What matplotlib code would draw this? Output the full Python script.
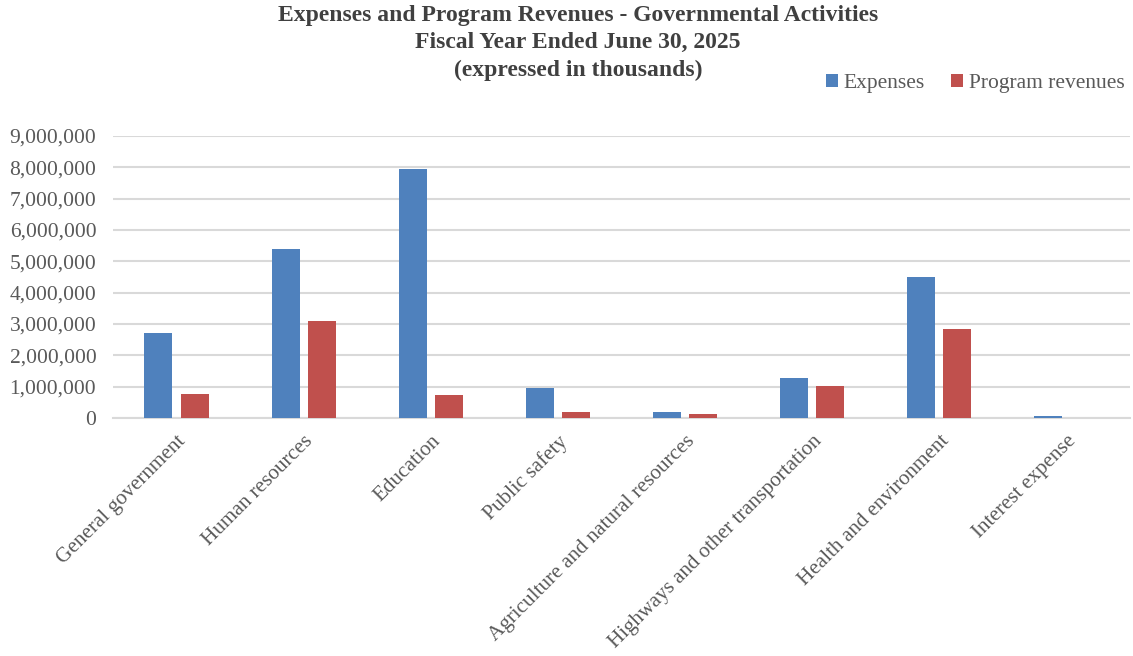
import matplotlib.pyplot as plt
import numpy as np

categories = ["General government", "Human resources", "Education", "Public safety",
              "Agriculture and natural resources", "Highways and other transportation",
              "Health and environment", "Interest expense"]
expenses = [2720000, 5380000, 7930000, 970000, 180000, 1280000, 4500000, 50000]
program_revenues = [760000, 3080000, 730000, 190000, 120000, 1030000, 2850000, 0]
yticks = [0, 1000000, 2000000, 3000000, 4000000, 5000000, 6000000, 7000000, 8000000, 9000000]
title_lines = ["Expenses and Program Revenues - Governmental Activities",
               "Fiscal Year Ended June 30, 2025",
               "(expressed in thousands)"]

plt.rcParams["font.family"] = ["Liberation Serif", "DejaVu Serif"]

fig = plt.figure(figsize=(11.33, 6.56), dpi=100)
ax = fig.add_axes([0.0997, 0.3628, 0.8977, 0.43])

x = np.arange(len(categories))
w = 0.22
ax.bar(x - 0.142, expenses, w, color="#4F81BD", label="Expenses", zorder=3)
ax.bar(x + 0.142, program_revenues, w, color="#C0504D", label="Program revenues", zorder=3)

ax.set_xlim(-0.5, len(categories) - 0.5)
ax.set_ylim(0, 9000000)
ax.set_yticks(yticks)
ax.set_yticklabels([f"{v:,}" for v in yticks], fontsize=15.5, color="#595959")
ax.yaxis.grid(True, color="#d9d9d9", linewidth=1.5, zorder=0)
ax.set_xticks(x)
ax.set_xticklabels(categories, rotation=45, ha="right", rotation_mode="anchor",
                   fontsize=15.2, color="#595959")
ax.tick_params(axis="both", length=0)
ax.tick_params(axis="y", pad=12)
ax.tick_params(axis="x", pad=10)
for s in ["top", "right", "left"]:
    ax.spines[s].set_visible(False)
ax.spines["bottom"].set_color("#d9d9d9")
ax.spines["bottom"].set_linewidth(1.5)

# title, one text per line
for i, line in enumerate(title_lines):
    fig.text(0.51, 0.977 - i * 0.042, line, ha="center", va="center",
             fontsize=17, fontweight="bold", color="#404040")

fig.legend(loc="center right", bbox_to_anchor=(1.0, 0.873), ncol=2, frameon=False,
           fontsize=15.5, handlelength=0.55, handleheight=0.55, handletextpad=0.25,
           columnspacing=1.25, labelcolor="#595959", borderaxespad=0.0)

fig.savefig("out.png", dpi=100)
